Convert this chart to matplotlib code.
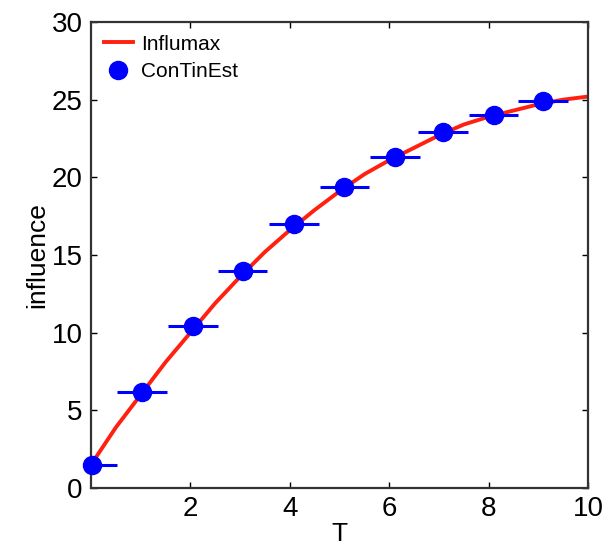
import matplotlib
matplotlib.use("Agg")
import matplotlib.pyplot as plt
from matplotlib.lines import Line2D

plt.rcParams['font.family'] = ['Liberation Sans', 'DejaVu Sans']

# Influmax curve
t_line = [0, 0.5, 1, 1.5, 2, 2.5, 3, 3.5, 4, 4.5, 5, 5.5, 6, 6.5, 7, 7.5, 8, 8.5, 9, 9.5, 10]
influmax = [1.5, 3.9, 6.0, 8.1, 10.0, 11.9, 13.6, 15.2, 16.6, 17.9, 19.1, 20.2, 21.1, 21.9, 22.7, 23.4, 23.9, 24.3, 24.7, 25.0, 25.2]

# ConTinEst estimates
t_pts = [0.02, 1.02, 2.05, 3.05, 4.08, 5.1, 6.12, 7.08, 8.1, 9.1]
continest = [1.5, 6.2, 10.4, 14.0, 17.0, 19.4, 21.3, 22.9, 24.0, 24.9]
xerr = [0.5] * len(t_pts)

fig = plt.figure(figsize=(6.05, 5.55), dpi=100)
ax = fig.add_axes([91 / 605, 1 - 488 / 555, (588 - 91) / 605, (488 - 22) / 555])

line, = ax.plot(t_line, influmax, color='#ff2010', lw=2.8, zorder=2)
eb = ax.errorbar(t_pts, continest, xerr=xerr, fmt='o', color='blue', ms=13,
                 elinewidth=2.2, capsize=0, zorder=3)
eb[0].set_clip_on(False)

ax.set_xlim(0, 10)
ax.set_ylim(0, 30)
ax.set_xticks([2, 4, 6, 8, 10])
ax.set_yticks([0, 5, 10, 15, 20, 25, 30])
ax.tick_params(direction='in', top=True, right=True, labelsize=20, length=4, width=1, pad=6)
for s in ax.spines.values():
    s.set_linewidth(1.6)
    s.set_color('#333333')

ax.set_xlabel('T', fontsize=19, labelpad=0)
ax.set_ylabel('influence', fontsize=19, labelpad=2)

dot = Line2D([], [], ls='none', marker='o', color='blue', ms=13)
ax.legend([line, dot], ['Influmax', 'ConTinEst'], loc='upper left', frameon=False,
          fontsize=15, handlelength=1.4, handletextpad=0.4, borderaxespad=0.2,
          labelspacing=0.4)

fig.savefig('out.png', dpi=100)
